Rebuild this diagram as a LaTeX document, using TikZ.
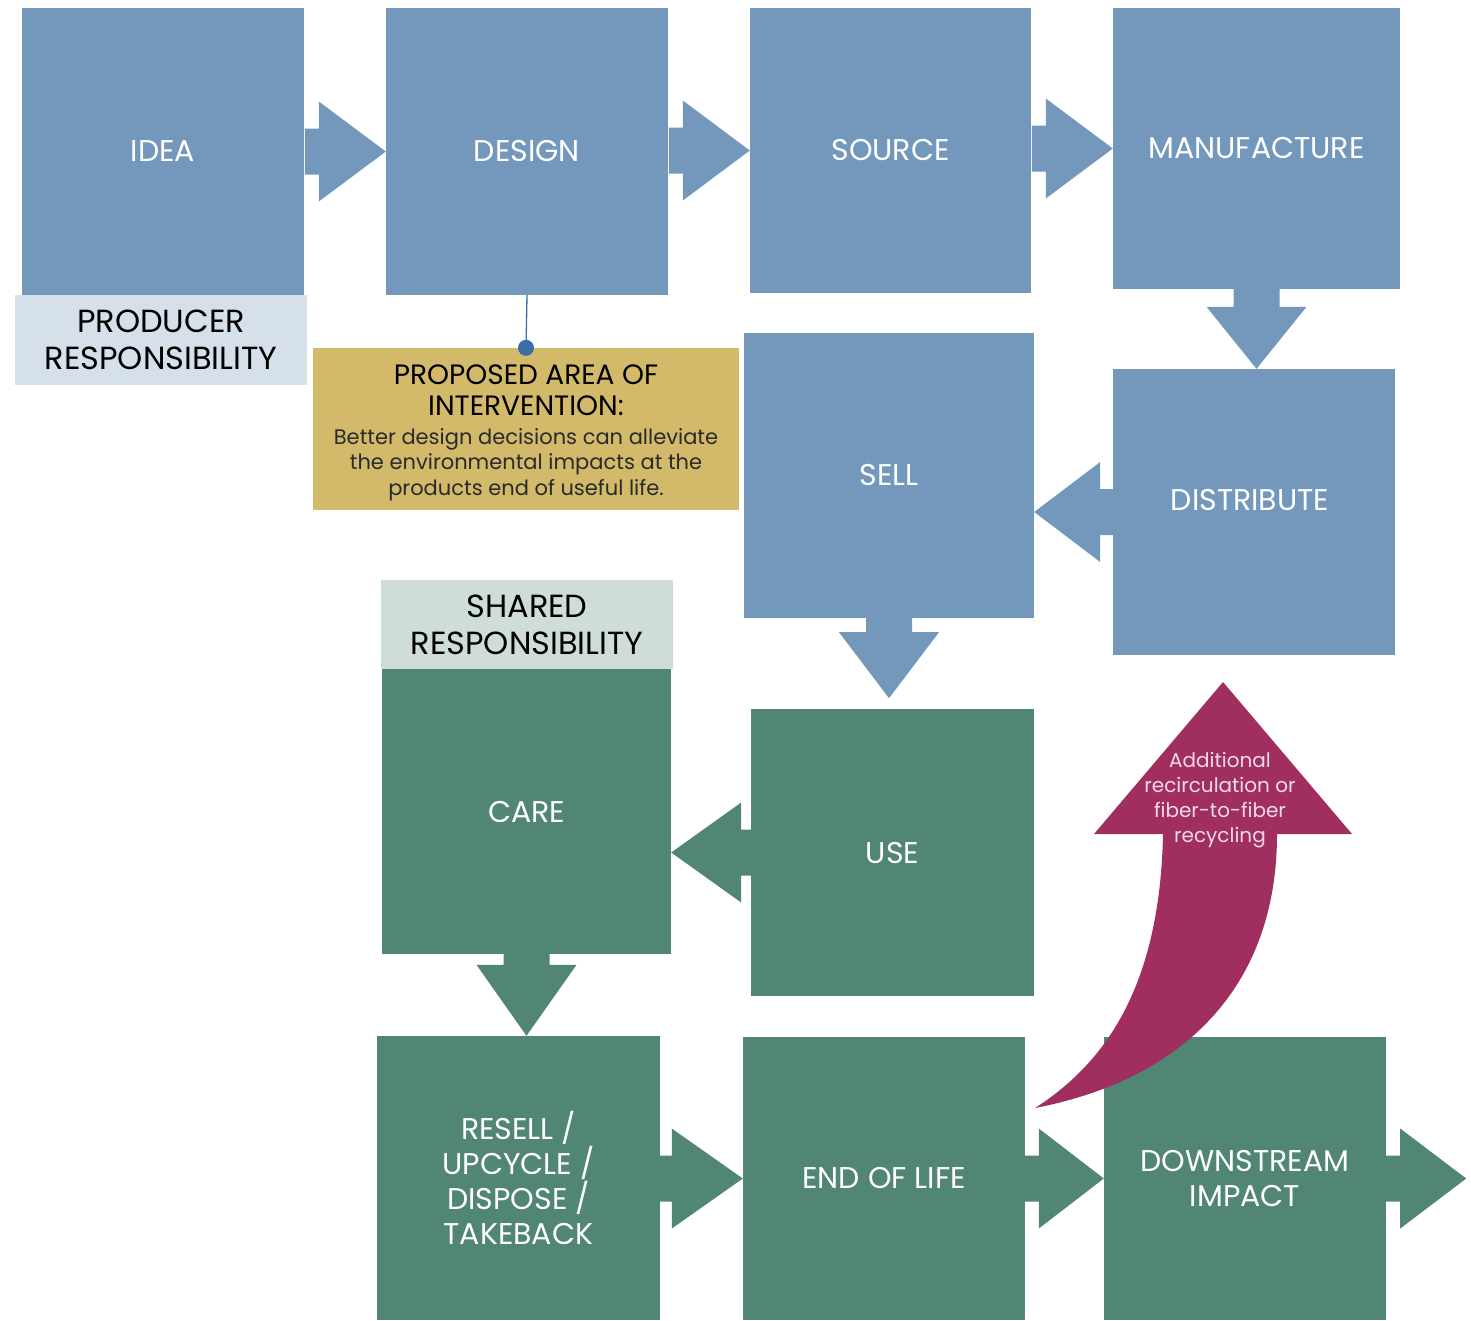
\documentclass[tikz,border=0pt]{standalone}
\usepackage{fontspec}
\setmainfont{Poppins}
\usetikzlibrary{calc}

\definecolor{flowblue}{HTML}{7398BC}
\definecolor{flowgreen}{HTML}{518574}
\definecolor{producerbg}{HTML}{D6E0EA}
\definecolor{sharedbg}{HTML}{CEDDD8}
\definecolor{calloutgold}{HTML}{D2BA6A}
\definecolor{pinline}{HTML}{3A6EA5}
\definecolor{loopred}{HTML}{A02F60}
\definecolor{looptext}{HTML}{F3D9E5}
\definecolor{bodyink}{HTML}{2A2A2A}

\newcommand\calltitle{\fontsize{28}{26}\selectfont\color{black}}
\newcommand\callbody{\fontsize{21}{26}\selectfont\color{bodyink}}

\tikzset{
  stagetext/.style={text=white, font=\fontsize{30}{35}\selectfont, align=center},
  stage/.style={inner sep=0pt, stagetext},
  bluestage/.style={stage, fill=flowblue},
  greenstage/.style={stage, fill=flowgreen},
  tagbox/.style={inner sep=0pt, text=black, align=center,
    font=\fontsize{32}{37}\selectfont},
  calloutbox/.style={inner sep=0pt, fill=calloutgold},
  callouttext/.style={inner sep=0pt, align=center, font=\fontsize{21}{26}\selectfont},
}

% block arrow: style, tip, direction angle, head length, shaft length
\newcommand\flowarrow[5]{%
  \fill[#1, shift={(#2)}, rotate=#3]
    (0,0) -- (-#4,50) -- (-#4,23) -- ({-#4-#5},23) -- ({-#4-#5},-23)
    -- (-#4,-23) -- (-#4,-50) -- cycle;
}

\begin{document}
\begin{tikzpicture}[x=1pt, y=-1pt]
\useasboundingbox (0,0) rectangle (1471,1320);

% ---- producer stages
\node[bluestage, minimum width=282pt, minimum height=287pt] (idea) at (163,151.5) {IDEA};
\node[bluestage, minimum width=282pt, minimum height=287pt] (design) at (527,151.5) {DESIGN};
\node[bluestage, minimum width=281pt, minimum height=285pt] (source) at (890.5,150.5) {SOURCE};
\node[bluestage, minimum width=287pt, minimum height=281pt] (manufacture) at (1256.5,148.5) {MANUFACTURE};
\node[bluestage, minimum width=282pt, minimum height=286pt] (distribute) at (1254,512) {};
\node[stagetext] (distributetext) at (1250,500) {DISTRIBUTE};
\node[bluestage, minimum width=290pt, minimum height=285pt] (sell) at (889,475.5) {SELL};

% ---- shared stages
\node[greenstage, minimum width=283pt, minimum height=287pt] (use) at (892.5,852.5) {USE};
\node[greenstage, minimum width=289pt, minimum height=285pt] (care) at (526.5,811.5) {CARE};
\node[greenstage, minimum width=283pt, minimum height=284pt] (resell) at (518.5,1178)
  {RESELL /\\ UPCYCLE /\\ DISPOSE /\\ TAKEBACK};
\node[greenstage, minimum width=282pt, minimum height=283pt] (endlife) at (884,1178.5) {END OF LIFE};
\node[greenstage, minimum width=282pt, minimum height=283pt] (downstream) at (1245,1178.5)
  {DOWNSTREAM\\ IMPACT};

% ---- responsibility tags
\node[tagbox, fill=producerbg, minimum width=292pt, minimum height=90pt] (producer) at (161,340)
  {PRODUCER\\ RESPONSIBILITY};
\node[tagbox, fill=sharedbg, minimum width=292pt, minimum height=89pt] (shared) at (527,624.5)
  {SHARED\\ RESPONSIBILITY};

% ---- intervention callout
\node[calloutbox, minimum width=426pt, minimum height=162pt] (callout) at (526,429) {};
\node[callouttext] (callouttxt) at (526,433)
  {\calltitle PROPOSED AREA OF\\[5pt]
   \calltitle INTERVENTION:\\[3pt]
   \callbody Better design decisions can alleviate\\[-1pt]
   \callbody the environmental impacts at the\\
   \callbody products end of useful life.};
\draw[pinline, line width=1.3pt] (design.south) -- (callout.north);
\fill[pinline] (callout.north) circle (8pt);

% ---- flow arrows
\flowarrow{flowblue}{design.west}{0}{67}{14}
\flowarrow{flowblue}{source.west}{0}{67}{14}
\flowarrow{flowblue}{manufacture.west}{0}{67}{14}
\flowarrow{flowblue}{distribute.north -| manufacture.south}{-90}{62}{18}
\flowarrow{flowblue}{distribute.west -| sell.east}{180}{66}{13}
\coordinate (usedrop) at ($(sell.south)+(0,80)$);
\flowarrow{flowblue}{usedrop}{-90}{66}{14}
\flowarrow{flowgreen}{use.west -| care.east}{180}{70}{10}
\flowarrow{flowgreen}{resell.north -| care.south}{-90}{71}{11}
\flowarrow{flowgreen}{endlife.west}{0}{71}{12}
\flowarrow{flowgreen}{downstream.west}{0}{65}{14}
\coordinate (outflow) at ($(downstream.east)+(80,0)$);
\flowarrow{flowgreen}{outflow}{0}{66}{14}

% ---- recirculation loop
\fill[loopred] (1035,1108)
  .. controls (1180,1080) and (1277,990) .. (1277,834)
  -- (1352,834) -- (1223,682) -- (1094,834) -- (1163,834)
  .. controls (1160,980) and (1110,1060) .. (1035,1108) -- cycle;
\node[text=looptext, align=center, font=\fontsize{20}{25}\selectfont] (looplabel) at (1220,800.5)
  {Additional\\ recirculation or\\ fiber-to-fiber\\ recycling};

\end{tikzpicture}
\end{document}
